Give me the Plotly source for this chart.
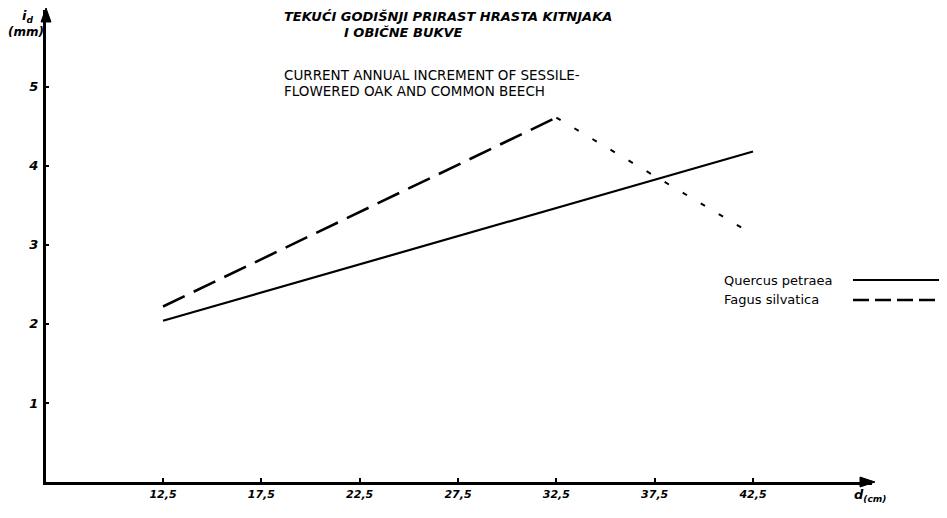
import plotly.graph_objects as go

# ---- data ----
quercus_d = [12.5, 42.5]
quercus_i = [2.04, 4.18]

fagus_d = [12.5, 32.5]
fagus_i = [2.22, 4.61]

fagus_decline_d = [32.5, 42.5]
fagus_decline_i = [4.61, 3.13]

x_ticks = [12.5, 17.5, 22.5, 27.5, 32.5, 37.5, 42.5]
x_tick_labels = ["12,5", "17,5", "22,5", "27,5", "32,5", "37,5", "42,5"]
y_ticks = [1, 2, 3, 4, 5]
y_tick_labels = ["1", "2", "3", "4", "5"]

title_hr = ["TEKUĆI GODIŠNJI PRIRAST HRASTA KITNJAKA", "I OBIČNE BUKVE"]
title_en = ["CURRENT ANNUAL INCREMENT OF SESSILE-", "FLOWERED OAK AND COMMON BEECH"]
series_names = ["Quercus petraea", "Fagus silvatica"]

FONT = "DejaVu Sans"

fig = go.Figure()
fig.add_trace(go.Scatter(x=quercus_d, y=quercus_i, mode="lines", name=series_names[0],
                         line=dict(color="black", width=2.2), showlegend=False))
fig.add_trace(go.Scatter(x=fagus_d, y=fagus_i, mode="lines", name=series_names[1],
                         line=dict(color="black", width=2.6, dash="24px,10px"), showlegend=False))
fig.add_trace(go.Scatter(x=fagus_decline_d, y=fagus_decline_i, mode="lines", name=series_names[1],
                         line=dict(color="black", width=2, dash="5px,16px"), showlegend=False))

# page has an 8px body margin: figure is drawn offset by (8, 8)
fig.update_layout(
    width=939, height=510,
    margin=dict(l=38, r=75, t=2, b=36),
    paper_bgcolor="white", plot_bgcolor="white",
    font=dict(family=FONT, color="black", size=12),
    xaxis=dict(range=[6.55, 48.55], showgrid=False, zeroline=False,
               showline=True, linecolor="black", linewidth=3,
               ticks="inside", ticklen=4, tickwidth=2, tickcolor="black",
               tickvals=x_ticks, ticktext=x_tick_labels,
               tickfont=dict(family=FONT, size=11, style="italic", weight="bold")),
    yaxis=dict(range=[0, 5.97], showgrid=False, zeroline=False,
               showline=True, linecolor="black", linewidth=3,
               ticks="inside", ticklen=3, tickwidth=2, tickcolor="black",
               tickvals=y_ticks, ticktext=y_tick_labels, ticklabelstandoff=2,
               tickfont=dict(family=FONT, size=13, style="italic", weight="bold")),
)

def px_x(px):
    return (px - 46) / 826.0

def px_y(py):
    return (482 - py) / 472.0

ann = []
# titles
ann.append(dict(text=title_hr[0], x=px_x(282), y=px_y(17)))
ann.append(dict(text=title_hr[1], x=px_x(342), y=px_y(33)))
for a in ann:
    a.update(font=dict(family=FONT, size=13, style="italic", weight="bold"))
ann.append(dict(text=title_en[0], x=px_x(282), y=px_y(75), font=dict(family=FONT, size=13.5)))
ann.append(dict(text=title_en[1], x=px_x(282), y=px_y(91), font=dict(family=FONT, size=13.5)))
# axis titles
ann.append(dict(text="i<sub>d</sub>", x=px_x(20), y=px_y(17),
                font=dict(family=FONT, size=13, style="italic", weight="bold")))
ann.append(dict(text="(mm)", x=px_x(6), y=px_y(32),
                font=dict(family=FONT, size=12, style="italic", weight="bold")))
ann.append(dict(text="d<sub>(cm)</sub>", x=px_x(852), y=px_y(496),
                font=dict(family=FONT, size=13, style="italic", weight="bold")))
# legend text
ann.append(dict(text=series_names[0], x=px_x(722), y=px_y(280), font=dict(family=FONT, size=13)))
ann.append(dict(text=series_names[1], x=px_x(722), y=px_y(300), font=dict(family=FONT, size=13)))

for a in ann:
    a.update(xref="paper", yref="paper", showarrow=False, xanchor="left", yanchor="middle")
fig.update_layout(annotations=ann)

def tri(points):
    p = [f"{px_x(x)},{px_y(y)}" for x, y in points]
    return "M " + " L ".join(p) + " Z"

# axis arrowheads
fig.add_shape(type="path", xref="paper", yref="paper",
              path=tri([(41, 22), (51, 22), (46, 8)]),
              fillcolor="black", line=dict(color="black", width=1))
fig.add_shape(type="path", xref="paper", yref="paper",
              path=tri([(860, 477), (860, 487), (875, 482)]),
              fillcolor="black", line=dict(color="black", width=1))

# legend samples
fig.add_shape(type="line", xref="paper", yref="paper", x0=px_x(853), x1=px_x(947),
              y0=px_y(280), y1=px_y(280), line=dict(color="black", width=2.2))
fig.add_shape(type="line", xref="paper", yref="paper", x0=px_x(853), x1=px_x(947),
              y0=px_y(300), y1=px_y(300), line=dict(color="black", width=2.6, dash="16px,6px"))

fig.write_html("out.html")
